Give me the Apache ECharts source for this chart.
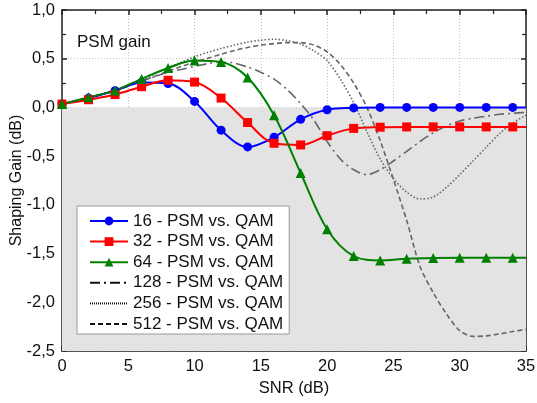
<!DOCTYPE html>
<html>
<head>
<meta charset="utf-8">
<script src="https://cdn.jsdelivr.net/npm/echarts@6/dist/echarts.min.js"></script>
<style>
  html, body { margin: 0; padding: 0; background: #fff; }
  #chart { width: 537px; height: 403px; }
</style>
</head>
<body>
<div id="chart"></div>
<script>
// SNR grid of the marked curves (markers every 2 dB, line runs to 35 dB)
const snrMarked = [0, 2, 4, 6, 8, 10, 12, 14, 16, 18, 20, 22, 24, 26, 28, 30, 32, 34, 35];
// SNR grid of the unmarked curves
const snrFine = [0, 1, 2, 3, 4, 5, 6, 7, 8, 9, 10, 11, 12, 13, 14, 15, 16, 17, 18, 19,
                 20, 21, 22, 23, 24, 25, 26, 27, 28, 29, 30, 31, 32, 33, 34, 35];

// Shaping gain (dB), PSM vs. QAM
const gain16 = [0.034, 0.096, 0.172, 0.255, 0.245, 0.062, -0.233, -0.405, -0.306, -0.122,
                -0.024, -0.005, 0, 0, 0, 0, 0, 0, 0];
const gain32 = [0.034, 0.079, 0.132, 0.213, 0.279, 0.26, 0.096, -0.155, -0.368, -0.385,
                -0.29, -0.215, -0.203, -0.2, -0.2, -0.2, -0.2, -0.2, -0.2];
const gain64 = [0.034, 0.104, 0.175, 0.293, 0.404, 0.482, 0.466, 0.307, -0.081, -0.673,
                -1.25, -1.526, -1.57, -1.553, -1.545, -1.543, -1.543, -1.543, -1.543];
const gain128 = [0.034, 0.066, 0.10, 0.135, 0.17, 0.22, 0.27, 0.315, 0.36, 0.39,
                 0.42, 0.45, 0.465, 0.455, 0.415, 0.36, 0.29, 0.18, 0.04, -0.13,
                 -0.35, -0.53, -0.64, -0.69, -0.64, -0.55, -0.45, -0.35, -0.26, -0.19,
                 -0.14, -0.11, -0.09, -0.07, -0.06, -0.05];
const gain256 = [0.034, 0.066, 0.10, 0.135, 0.17, 0.22, 0.28, 0.345, 0.41, 0.465,
                 0.52, 0.565, 0.605, 0.64, 0.67, 0.69, 0.70, 0.685, 0.65, 0.58,
                 0.48, 0.29, 0.05, -0.25, -0.53, -0.73, -0.87, -0.94, -0.92, -0.82,
                 -0.69, -0.55, -0.41, -0.27, -0.16, -0.08];
const gain512 = [0.034, 0.066, 0.10, 0.135, 0.17, 0.22, 0.27, 0.32, 0.37, 0.42,
                 0.465, 0.505, 0.545, 0.585, 0.615, 0.64, 0.655, 0.665, 0.665, 0.64,
                 0.57, 0.44, 0.25, 0.0, -0.34, -0.74, -1.16, -1.63, -1.9, -2.12,
                 -2.29, -2.35, -2.345, -2.325, -2.3, -2.28];

const seriesNames = ['16 - PSM vs. QAM', '32 - PSM vs. QAM', '64 - PSM vs. QAM',
                     '128 - PSM vs. QAM', '256 - PSM vs. QAM', '512 - PSM vs. QAM'];

const xTicks = [0, 5, 10, 15, 20, 25, 30, 35];
const yTicks = [-2.5, -2.0, -1.5, -1.0, -0.5, 0.0, 0.5, 1.0];
const yTickLabels = ['-2,5', '-2,0', '-1,5', '-1,0', '-0,5', '0,0', '0,5', '1,0'];

const FONT = "'Liberation Sans', Arial, sans-serif";

function pairs(xs, ys, lastNoSymbol) {
  return ys.map((y, i) => {
    const item = { value: [xs[i], y] };
    if (lastNoSymbol && xs[i] === 35) item.symbol = 'none';
    return item;
  });
}

function yLabel(v) {
  const i = yTicks.findIndex(t => Math.abs(t - v) < 1e-9);
  return i >= 0 ? yTickLabels[i] : '';
}

function xLabel(v) {
  return xTicks.indexOf(v) >= 0 ? String(v) : '';
}

const axisLineStyle = { color: '#222', width: 1.5 };
const minorTickStyle = { color: '#222', width: 1.2 };

const chart = echarts.init(document.getElementById('chart'), null, { renderer: 'canvas' });

const markedSeries = (name, ys, color, symbol, size) => ({
  name, type: 'line', xAxisIndex: 0, yAxisIndex: 0,
  data: pairs(snrMarked, ys, true),
  smooth: 0.35,
  symbol, symbolSize: size,
  showAllSymbol: true,
  lineStyle: { color, width: 2 },
  itemStyle: { color },
  z: 5
});

const plainSeries = (name, ys, dash) => ({
  name, type: 'line', xAxisIndex: 0, yAxisIndex: 0,
  data: pairs(snrFine, ys, false),
  smooth: 0.3,
  symbol: 'none',
  lineStyle: { color: '#666', width: 1.6, type: dash },
  itemStyle: { color: '#666' },
  z: 4
});

const hiddenSymbol = { opacity: 0 };

chart.setOption({
  animation: false,
  backgroundColor: '#fff',
  grid: { left: 62, right: 11, top: 10, bottom: 52, outerBoundsMode: 'none' },
  legend: {
    orient: 'vertical',
    left: 77, top: 206,
    padding: [5, 6, 0, 12],
    itemGap: 0.6,
    itemWidth: 38, itemHeight: 11,
    backgroundColor: '#fff',
    borderColor: '#999', borderWidth: 1,
    textStyle: { fontFamily: FONT, fontSize: 17, color: '#111', lineHeight: 20 },
    data: [
      { name: seriesNames[0] },
      { name: seriesNames[1] },
      { name: seriesNames[2] },
      { name: seriesNames[3], lineStyle: { color: '#111' }, itemStyle: hiddenSymbol },
      { name: seriesNames[4], lineStyle: { color: '#111', type: [1, 1] }, itemStyle: hiddenSymbol },
      { name: seriesNames[5], lineStyle: { color: '#111' }, itemStyle: hiddenSymbol }
    ]
  },
  graphic: [
    { type: 'text', left: 77, top: 34,
      style: { text: 'PSM gain', fontFamily: FONT, fontSize: 17, fill: '#111' } },
    { type: 'text', left: 77, top: 159,
      style: { text: 'QAM gain + Ambiguities', fontFamily: FONT, fontSize: 17, fill: '#111' } }
  ],
  xAxis: [
    {
      type: 'value', min: 0, max: 35, interval: 5,
      name: 'SNR (dB)', nameLocation: 'middle', nameGap: 29, nameMoveOverlap: false,
      nameTextStyle: { fontFamily: FONT, fontSize: 16.5, color: '#111' },
      axisLine: { show: true, onZero: false, lineStyle: axisLineStyle },
      axisTick: { show: true, inside: true, length: 5, lineStyle: axisLineStyle },
      minorTick: { show: true, splitNumber: 2, length: 4, lineStyle: minorTickStyle },
      axisLabel: { fontFamily: FONT, fontSize: 16.5, color: '#111', margin: 7, formatter: xLabel },
      splitLine: { show: true, lineStyle: { color: '#c4c4c4', type: [1, 2], width: 1 } }
    },
    {
      type: 'value', min: 0, max: 35, interval: 5, position: 'top',
      axisLine: { show: true, onZero: false, lineStyle: axisLineStyle },
      axisTick: { show: true, inside: true, length: 5, lineStyle: axisLineStyle },
      minorTick: { show: true, splitNumber: 2, length: 4, lineStyle: minorTickStyle },
      axisLabel: { show: false },
      splitLine: { show: false }
    }
  ],
  yAxis: [
    {
      type: 'value', min: -2.5, max: 1.0, interval: 0.5,
      name: 'Shaping Gain (dB)', nameLocation: 'middle', nameGap: 37, nameMoveOverlap: false,
      nameTextStyle: { fontFamily: FONT, fontSize: 16, color: '#111' },
      axisLine: { show: true, onZero: false, lineStyle: axisLineStyle },
      axisTick: { show: true, inside: true, length: 5, lineStyle: axisLineStyle },
      minorTick: { show: true, splitNumber: 2, length: 4, lineStyle: minorTickStyle },
      axisLabel: { fontFamily: FONT, fontSize: 16.5, color: '#111', margin: 7, formatter: yLabel },
      splitLine: { show: true, lineStyle: { color: '#c4c4c4', type: [1, 2], width: 1 } }
    },
    {
      type: 'value', min: -2.5, max: 1.0, interval: 0.5, position: 'right',
      axisLine: { show: true, onZero: false, lineStyle: axisLineStyle },
      axisTick: { show: true, inside: true, length: 5, lineStyle: axisLineStyle },
      minorTick: { show: true, splitNumber: 2, length: 4, lineStyle: minorTickStyle },
      axisLabel: { show: false },
      splitLine: { show: false }
    }
  ],
  series: [
    // shaded region below 0 dB (QAM gain side), drawn beneath the grid lines
    {
      name: 'shade', type: 'line', xAxisIndex: 0, yAxisIndex: 0, z: -1,
      data: [[0, 0]], symbol: 'none', lineStyle: { width: 0, opacity: 0 },
      silent: true,
      markArea: {
        silent: true,
        itemStyle: { color: '#e3e3e3' },
        data: [[{ xAxis: 0, yAxis: -2.5 }, { xAxis: 35, yAxis: 0 }]]
      }
    },
    markedSeries(seriesNames[0], gain16, '#0000ff', 'circle', 9),
    markedSeries(seriesNames[1], gain32, '#ff0000', 'rect', 9),
    markedSeries(seriesNames[2], gain64, '#008000', 'triangle', 10),
    plainSeries(seriesNames[3], gain128, [10, 4, 2, 4]),
    plainSeries(seriesNames[4], gain256, [1.5, 2]),
    plainSeries(seriesNames[5], gain512, [5, 3])
  ]
});
</script>
</body>
</html>
